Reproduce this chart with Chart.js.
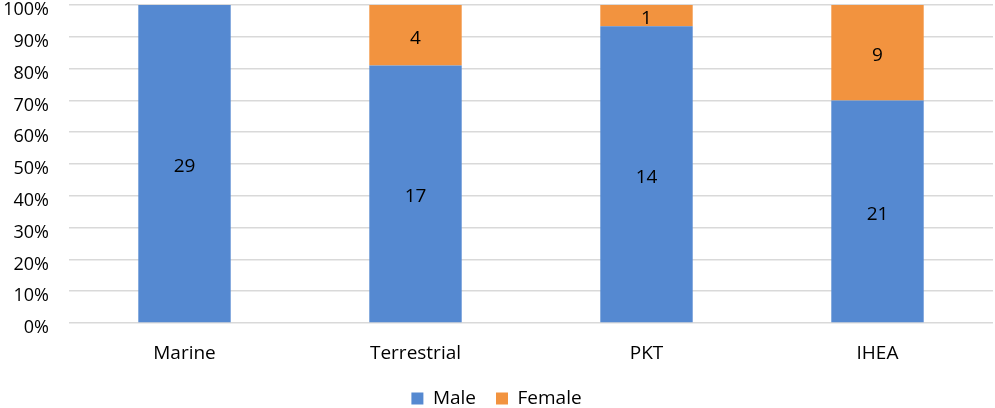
<!DOCTYPE html>
<html>
<head>
<meta charset="utf-8">
<script src="https://cdn.jsdelivr.net/npm/chart.js@4.4.1/dist/chart.umd.min.js"></script>
<style>
  html, body { margin: 0; padding: 0; background: #fff; }
  #wrap { width: 995px; height: 408px; }
</style>
</head>
<body>
<div id="wrap"><canvas id="chart"></canvas></div>
<script>
const categories = ['Marine', 'Terrestrial', 'PKT', 'IHEA'];
const maleCounts = [29, 17, 14, 21];
const femaleCounts = [0, 4, 1, 9];
const yTicks = [0, 10, 20, 30, 40, 50, 60, 70, 80, 90, 100];

const totals = categories.map((c, i) => maleCounts[i] + femaleCounts[i]);
const malePct = maleCounts.map((v, i) => v / totals[i] * 100);
const femalePct = femaleCounts.map((v, i) => v / totals[i] * 100);

const FONT = '"Open Sans", Lato, sans-serif';

// draws the raw count in the middle of each bar segment
const barLabels = {
  id: 'barLabels',
  afterDatasetsDraw(chart) {
    const ctx = chart.ctx;
    ctx.save();
    ctx.font = '19px ' + FONT;
    ctx.fillStyle = '#000';
    ctx.textAlign = 'center';
    ctx.textBaseline = 'middle';
    chart.data.datasets.forEach((ds, di) => {
      const meta = chart.getDatasetMeta(di);
      meta.data.forEach((bar, i) => {
        const n = ds.counts[i];
        if (!n) return;
        const y = (bar.y + bar.base) / 2;
        ctx.fillText(String(n), bar.x, y + 3);
      });
    });
    ctx.restore();
  }
};

new Chart(document.getElementById('chart'), {
  type: 'bar',
  data: {
    labels: categories,
    datasets: [
      { label: 'Male', data: malePct, counts: maleCounts, backgroundColor: '#5589D1' },
      { label: 'Female', data: femalePct, counts: femaleCounts, backgroundColor: '#F2933F' },
    ],
  },
  options: {
    responsive: true,
    maintainAspectRatio: false,
    animation: false,
    layout: { padding: { top: 5, right: 2, left: 0, bottom: -10 } },
    datasets: { bar: { categoryPercentage: 1, barPercentage: 0.4 } },
    plugins: {
      legend: {
        position: 'bottom',
        labels: {
          boxWidth: 12,
          boxHeight: 12,
          padding: 20,
          color: '#000',
          font: { family: FONT, size: 19 },
        },
      },
      tooltip: { enabled: false },
    },
    scales: {
      x: {
        stacked: true,
        grid: { display: false },
        border: { display: false },
        afterFit: (scale) => { scale.height = 46; scale.paddingLeft = 0; scale.paddingRight = 0; },
        ticks: { color: '#000', font: { family: FONT, size: 19 }, padding: 11 },
      },
      y: {
        stacked: true,
        min: 0,
        max: 100,
        afterBuildTicks: (scale) => { scale.ticks = yTicks.map((v) => ({ value: v })); },
        afterFit: (scale) => { scale.width = 69; scale.paddingTop = 0; scale.paddingBottom = 0; },
        grid: { color: '#d9d9d9', drawTicks: false, lineWidth: 1.5 },
        border: { display: false },
        ticks: {
          color: '#000',
          padding: 20,
          labelOffset: 5,
          font: { family: FONT, size: 18 },
          callback: (v) => v + '%',
        },
      },
    },
  },
  plugins: [barLabels],
});
</script>
</body>
</html>
